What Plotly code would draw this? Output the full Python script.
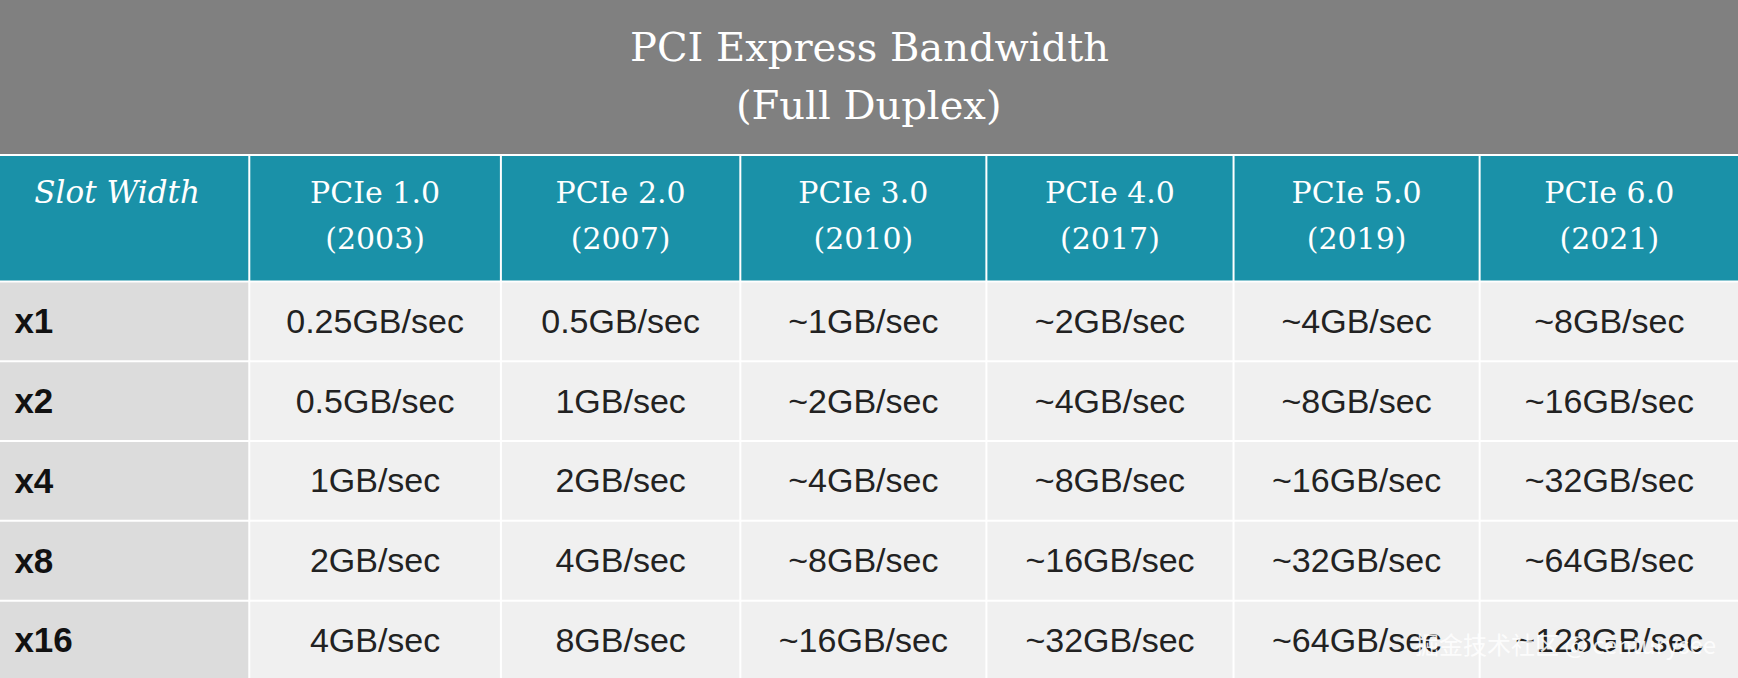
import plotly.graph_objects as go

title_lines = ["PCI Express Bandwidth", "(Full Duplex)"]
slot_header = "Slot Width"
gens = ["PCIe 1.0", "PCIe 2.0", "PCIe 3.0", "PCIe 4.0", "PCIe 5.0", "PCIe 6.0"]
years = ["2003", "2007", "2010", "2017", "2019", "2021"]
slots = ["x1", "x2", "x4", "x8", "x16"]
pcie1 = ["0.25GB/sec", "0.5GB/sec", "1GB/sec", "2GB/sec", "4GB/sec"]
pcie2 = ["0.5GB/sec", "1GB/sec", "2GB/sec", "4GB/sec", "8GB/sec"]
pcie3 = ["~1GB/sec", "~2GB/sec", "~4GB/sec", "~8GB/sec", "~16GB/sec"]
pcie4 = ["~2GB/sec", "~4GB/sec", "~8GB/sec", "~16GB/sec", "~32GB/sec"]
pcie5 = ["~4GB/sec", "~8GB/sec", "~16GB/sec", "~32GB/sec", "~64GB/sec"]
pcie6 = ["~8GB/sec", "~16GB/sec", "~32GB/sec", "~64GB/sec", "~128GB/sec"]
values = [pcie1, pcie2, pcie3, pcie4, pcie5, pcie6]

W, H = 1738, 678
S = W / 1568
col_edges = [e * S for e in [0, 224, 451, 667, 889, 1112, 1334, 1568]]
title_bottom = 139 * S
header_bottom = 253 * S
row_edges = [e * S for e in [253, 325, 397, 469, 541, 612]]
GAP = 2

fig = go.Figure()
shapes = [dict(type="rect", x0=0, x1=W, y0=0, y1=title_bottom, fillcolor="#808080",
               line_width=0, layer="below")]
for c in range(7):
    x0 = col_edges[c] + (GAP if c > 0 else 0)
    x1 = col_edges[c + 1]
    shapes.append(dict(type="rect", x0=x0, x1=x1, y0=title_bottom + GAP, y1=header_bottom,
                       fillcolor="#1a91a8", line_width=0, layer="below"))
    for r in range(5):
        shapes.append(dict(type="rect", x0=x0, x1=x1, y0=row_edges[r] + GAP, y1=row_edges[r + 1],
                           fillcolor="#dcdcdc" if c == 0 else "#f0f0f0", line_width=0, layer="below"))

row_mid = [(row_edges[r] + row_edges[r + 1]) / 2 + 4 for r in range(5)]
col_mid = [(col_edges[c] + col_edges[c + 1]) / 2 + 1 for c in range(1, 7)]
hfont = dict(family="DejaVu Serif", size=30, color="white")

fig.add_trace(go.Scatter(x=col_mid, y=[176 * S] * 6, mode="text", text=gens,
                         textfont=hfont, hoverinfo="skip"))
fig.add_trace(go.Scatter(x=col_mid, y=[218 * S] * 6, mode="text", text=[f"({y})" for y in years],
                         textfont=hfont, hoverinfo="skip"))
fig.add_trace(go.Scatter(x=[31 * S], y=[176 * S], mode="text", text=["<i>" + slot_header + "</i>"],
                         textposition="middle right",
                         textfont=dict(family="DejaVu Serif", size=31, color="white"),
                         hoverinfo="skip"))
fig.add_trace(go.Scatter(x=[13 * S] * 5, y=row_mid, mode="text", text=["<b>" + s + "</b>" for s in slots],
                         textposition="middle right",
                         textfont=dict(family="Liberation Sans", size=35, color="#111111"),
                         hoverinfo="skip"))
for c, vals in enumerate(values):
    fig.add_trace(go.Scatter(x=[col_mid[c]] * 5, y=row_mid, mode="text", text=vals,
                             textfont=dict(family="Liberation Sans", size=34, color="#222222"),
                             hoverinfo="skip"))

for txt, yy in zip(title_lines, [42, 95]):
    fig.add_annotation(text=txt, x=W / 2, y=yy * S, xref="x", yref="y",
                       showarrow=False, xanchor="center", yanchor="middle",
                       font=dict(family="DejaVu Serif", size=40, color="white"))
fig.add_annotation(text="掘金技术社区 @ centurysee", x=W - 20, y=row_mid[4], xref="x", yref="y",
                   xanchor="right", yanchor="middle", showarrow=False,
                   font=dict(family="Noto Sans CJK SC", size=24, color="rgba(255,255,255,0.85)"))

fig.update_layout(width=W, height=H, margin=dict(l=0, r=0, t=0, b=0),
                  paper_bgcolor="white", plot_bgcolor="white", showlegend=False,
                  shapes=shapes,
                  xaxis=dict(range=[0, W], visible=False, fixedrange=True),
                  yaxis=dict(range=[H, 0], visible=False, fixedrange=True))
fig.write_html("out.html", post_script="document.body.style.margin='0';",
               config={"displayModeBar": False})
